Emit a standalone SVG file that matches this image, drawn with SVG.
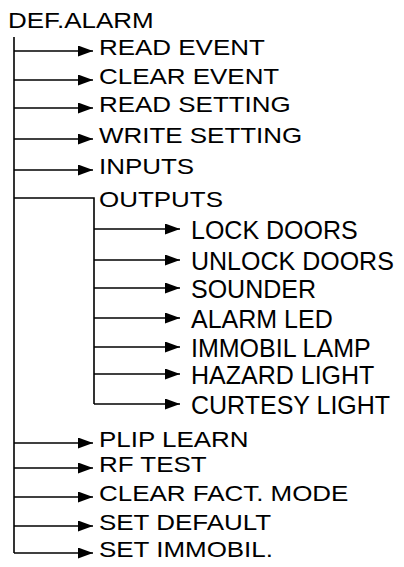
<svg xmlns="http://www.w3.org/2000/svg" width="404" height="567" viewBox="0 0 404 567">
<style>
.t{font-family:"Liberation Sans",Arial,sans-serif;font-size:22px;fill:#000}
.s{font-family:"Liberation Sans",Arial,sans-serif;font-size:25px;fill:#000}
.c{stroke:#000;stroke-width:1.6;fill:none}
</style>
<defs>
<marker id="ah" markerUnits="userSpaceOnUse" markerWidth="16" markerHeight="12" refX="15" refY="5.5" orient="auto">
<path d="M0,0 L15,5.5 L0,11 z" fill="#000"/>
</marker>
</defs>
<rect width="404" height="567" fill="#fff"/>
<g id="connectors" class="c">
<line x1="14" y1="37" x2="14" y2="553"/>
<line x1="14" y1="51" x2="93" y2="51" marker-end="url(#ah)"/>
<line x1="14" y1="80" x2="93" y2="80" marker-end="url(#ah)"/>
<line x1="14" y1="108" x2="93" y2="108" marker-end="url(#ah)"/>
<line x1="14" y1="139" x2="93" y2="139" marker-end="url(#ah)"/>
<line x1="14" y1="170" x2="93" y2="170" marker-end="url(#ah)"/>
<polyline points="14,198 94,198 94,404"/>
<line x1="94" y1="229" x2="180" y2="229" marker-end="url(#ah)"/>
<line x1="94" y1="260" x2="180" y2="260" marker-end="url(#ah)"/>
<line x1="94" y1="288" x2="180" y2="288" marker-end="url(#ah)"/>
<line x1="94" y1="318" x2="180" y2="318" marker-end="url(#ah)"/>
<line x1="94" y1="347" x2="180" y2="347" marker-end="url(#ah)"/>
<line x1="94" y1="374" x2="180" y2="374" marker-end="url(#ah)"/>
<line x1="94" y1="404" x2="180" y2="404" marker-end="url(#ah)"/>
<line x1="14" y1="443" x2="93" y2="443" marker-end="url(#ah)"/>
<line x1="14" y1="468" x2="93" y2="468" marker-end="url(#ah)"/>
<line x1="14" y1="497" x2="93" y2="497" marker-end="url(#ah)"/>
<line x1="14" y1="526" x2="93" y2="526" marker-end="url(#ah)"/>
<line x1="14" y1="553" x2="93" y2="553" marker-end="url(#ah)"/>
</g>
<g id="root"><text class="t" transform="translate(8,28) scale(1.18,1)">DEF.ALARM</text></g>
<g id="read-event"><text class="t" transform="translate(99,55) scale(1.18,1)">READ EVENT</text></g>
<g id="clear-event"><text class="t" transform="translate(99,84) scale(1.18,1)">CLEAR EVENT</text></g>
<g id="read-setting"><text class="t" transform="translate(99,112) scale(1.18,1)">READ SETTING</text></g>
<g id="write-setting"><text class="t" transform="translate(99,143) scale(1.18,1)">WRITE SETTING</text></g>
<g id="inputs"><text class="t" transform="translate(99,174) scale(1.18,1)">INPUTS</text></g>
<g id="outputs"><text class="t" transform="translate(99,207) scale(1.18,1)">OUTPUTS</text></g>
<g id="lock-doors"><text class="s" x="191" y="239">LOCK DOORS</text></g>
<g id="unlock-doors"><text class="s" x="191" y="270">UNLOCK DOORS</text></g>
<g id="sounder"><text class="s" x="191" y="298">SOUNDER</text></g>
<g id="alarm-led"><text class="s" x="191" y="328">ALARM LED</text></g>
<g id="immobil-lamp"><text class="s" x="191" y="357">IMMOBIL LAMP</text></g>
<g id="hazard-light"><text class="s" x="191" y="384">HAZARD LIGHT</text></g>
<g id="curtesy-light"><text class="s" x="191" y="414">CURTESY LIGHT</text></g>
<g id="plip-learn"><text class="t" transform="translate(99,447) scale(1.18,1)">PLIP LEARN</text></g>
<g id="rf-test"><text class="t" transform="translate(99,472) scale(1.18,1)">RF TEST</text></g>
<g id="clear-fact-mode"><text class="t" transform="translate(99,501) scale(1.18,1)">CLEAR FACT. MODE</text></g>
<g id="set-default"><text class="t" transform="translate(99,530) scale(1.18,1)">SET DEFAULT</text></g>
<g id="set-immobil"><text class="t" transform="translate(99,557) scale(1.18,1)">SET IMMOBIL.</text></g>
</svg>
